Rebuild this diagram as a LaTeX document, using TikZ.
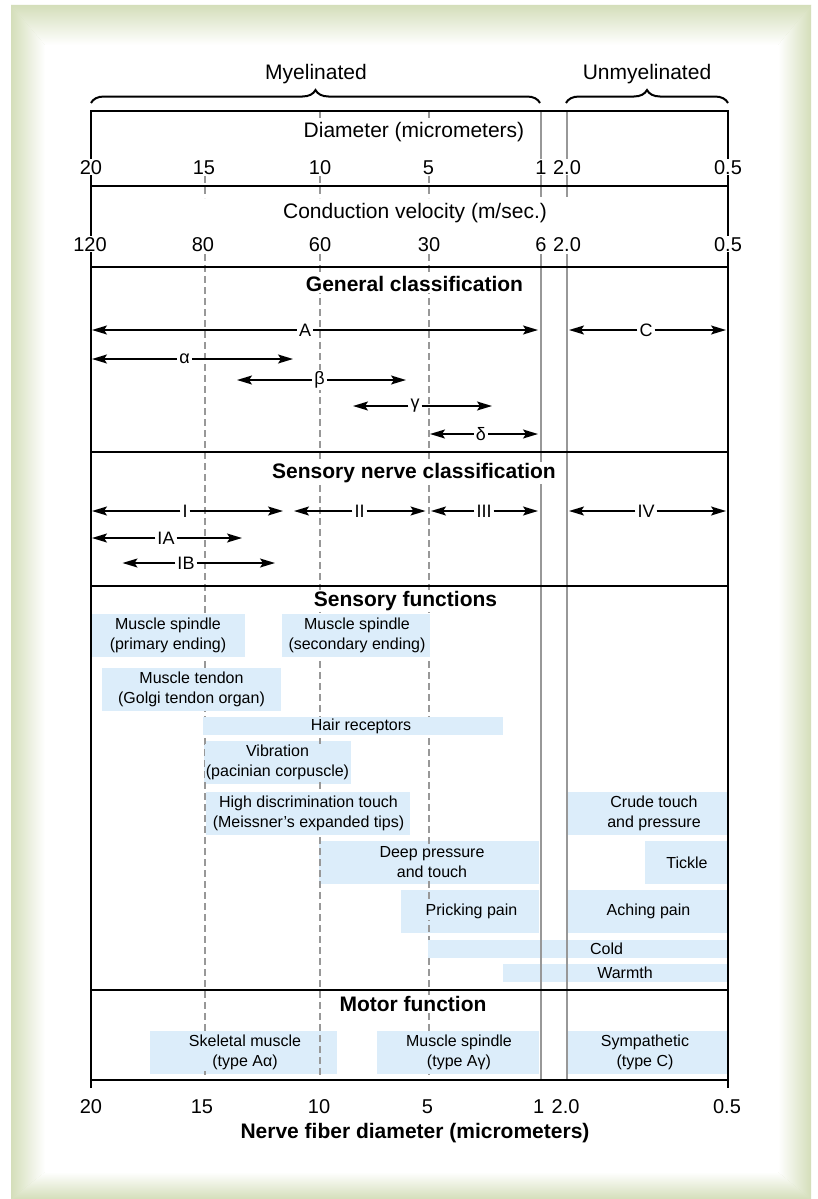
\documentclass[tikz,border=0pt]{standalone}
\usepackage{fontspec}
\setmainfont{Liberation Sans}
\usetikzlibrary{arrows.meta,decorations.pathreplacing}

\definecolor{framegreen}{RGB}{212,222,186}
\definecolor{fnblue}{RGB}{220,237,250}
\definecolor{guidegray}{RGB}{152,152,152}

\tikzset{
  frameline/.style={line width=2.5pt},
  guide/.style={draw=guidegray, line width=2pt},
  dashguide/.style={draw=guidegray, line width=2pt, dash pattern=on 7pt off 4pt},
  spanarrow/.style={line width=1.6pt, -{Stealth[length=15pt,width=9pt,inset=3pt]}},
  rlabel/.style={fill=white, inner sep=2pt, font=\fontsize{18}{20}\selectfont},
  scalelbl/.style={fill=white, inner sep=1pt, anchor=base, font=\fontsize{20}{24}\selectfont},
  rowhead/.style={fill=white, inner sep=1pt, anchor=base, font=\fontsize{21}{25}\selectfont},
  rowtitle/.style={rowhead, font=\fontsize{21}{25}\selectfont\bfseries},
  grouplbl/.style={anchor=base, font=\fontsize{21}{25}\selectfont},
  groupbrace/.style={line width=2pt, decorate, decoration={brace, amplitude=13pt}},
  fnbox/.style={fill=fnblue},
  fntext/.style={fill=fnblue, inner sep=1pt, align=center, font=\fontsize{16}{20}\selectfont},
}

\begin{document}
\begin{tikzpicture}[x=1pt, y=-1pt]
\useasboundingbox (0,0) rectangle (818,1199);

% frame
\fill[white] (0,0) rectangle (818,1199);
\fill[framegreen] (11,5) rectangle (811,1199);
\fill[white] (45,45) rectangle (778,1172);
\shade[left color=framegreen, right color=white] (11,5) -- (45,45) -- (45,1172) -- (11,1199) -- cycle;
\shade[top color=framegreen, bottom color=white] (11,5) -- (811,5) -- (778,45) -- (45,45) -- cycle;
\shade[left color=white, right color=framegreen] (778,45) -- (811,5) -- (811,1199) -- (778,1172) -- cycle;
\shade[top color=white, bottom color=framegreen] (45,1172) -- (778,1172) -- (811,1199) -- (11,1199) -- cycle;

% boxes the dashed lines show through
\path[fnbox] (204,741) rectangle (351,784);
\path[fnbox] (319,841) rectangle (539,884);
\path[fnbox] (401,890) rectangle (539,933);
\path[fnbox] (150,1031) rectangle (337,1074);

\draw[dashguide] (205,176) -- (205,198);
\draw[dashguide] (205,254) -- (205,1080);
\draw[dashguide] (320,111) -- (320,118);
\draw[dashguide] (320,176) -- (320,198);
\draw[dashguide] (320,254) -- (320,1080);
\draw[dashguide] (429,111) -- (429,118);
\draw[dashguide] (429,176) -- (429,198);
\draw[dashguide] (429,254) -- (429,1080);

\path[fnbox] (91,614) rectangle (245,657);
\path[fnbox] (282,614) rectangle (430,657);
\path[fnbox] (102,668) rectangle (281,711);
\path[fnbox] (203,717) rectangle (503,735);
\path[fnbox] (206,792) rectangle (410,835);
\path[fnbox] (567,792) rectangle (728,835);
\path[fnbox] (645,841) rectangle (728,884);
\path[fnbox] (567,890) rectangle (728,933);
\path[fnbox] (428,940) rectangle (728,958);
\path[fnbox] (503,964) rectangle (728,982);
\path[fnbox] (377,1031) rectangle (539,1074);
\path[fnbox] (566,1031) rectangle (728,1074);

\draw[guide] (541,111) -- (541,197);
\draw[guide] (541,254) -- (541,1080);
\draw[guide] (567,111) -- (567,197);
\draw[guide] (567,254) -- (567,1080);

\draw[frameline] (91,1088) -- (91,111) -- (728,111) -- (728,1088);
\draw[frameline] (91,186) -- (728,186);
\draw[frameline] (91,267) -- (728,267);
\draw[frameline] (91,452) -- (728,452);
\draw[frameline] (91,586) -- (728,586);
\draw[frameline] (91,990) -- (728,990);
\draw[frameline] (91,1080) -- (728,1080);

% myelinated / unmyelinated
\draw[groupbrace] (91,103) -- (540,103);
\draw[groupbrace] (566,103) -- (728,103);
\node[grouplbl] (myel) at (316,80) {Myelinated};
\node[grouplbl] (unmyel) at (647,80) {Unmyelinated};

% scales
\node[rowhead] (diamhead) at (414,137) {Diameter (micrometers)};
\node[scalelbl] (d20) at (91,174) {20};
\node[scalelbl] (d15) at (204,174) {15};
\node[scalelbl] (d10) at (320,174) {10};
\node[scalelbl] (d5) at (428.5,174) {5};
\node[scalelbl] (d1) at (541,174) {1};
\node[scalelbl] (d20c) at (567,174) {2.0};
\node[scalelbl] (d05) at (728,174) {0.5};

\node[rowhead] (velhead) at (415,218.5) {Conduction velocity (m/sec.)};
\node[scalelbl] (v120) at (90,251) {120};
\node[scalelbl] (v80) at (203,251) {80};
\node[scalelbl] (v60) at (320,251) {60};
\node[scalelbl] (v30) at (429,251) {30};
\node[scalelbl] (v6) at (541,251) {6};
\node[scalelbl] (v20c) at (567,251) {2.0};
\node[scalelbl] (v05) at (728,251) {0.5};

% general classification
\node[rowtitle] (genhead) at (414.5,291.7) {General classification};

\node[rlabel] (gA) at (305,330) {A};
\coordinate (gA-l) at (92,330);
\coordinate (gA-r) at (538,330);
\draw[spanarrow] (gA) -- (gA-l);
\draw[spanarrow] (gA) -- (gA-r);

\node[rlabel] (gC) at (646,330) {C};
\coordinate (gC-l) at (569,330);
\coordinate (gC-r) at (726,330);
\draw[spanarrow] (gC) -- (gC-l);
\draw[spanarrow] (gC) -- (gC-r);

\node[rlabel] (galpha) at (184.5,359) {α};
\coordinate (galpha-l) at (92,359);
\coordinate (galpha-r) at (293,359);
\draw[spanarrow] (galpha) -- (galpha-l);
\draw[spanarrow] (galpha) -- (galpha-r);

\node[rlabel] (gbeta) at (319.5,380) {β};
\coordinate (gbeta-l) at (237,380);
\coordinate (gbeta-r) at (406,380);
\draw[spanarrow] (gbeta) -- (gbeta-l);
\draw[spanarrow] (gbeta) -- (gbeta-r);

\node[rlabel] (ggamma) at (415,406) {γ};
\coordinate (ggamma-l) at (353,406);
\coordinate (ggamma-r) at (492,406);
\draw[spanarrow] (ggamma) -- (ggamma-l);
\draw[spanarrow] (ggamma) -- (ggamma-r);

\node[rlabel] (gdelta) at (481,434) {δ};
\coordinate (gdelta-l) at (430,434);
\coordinate (gdelta-r) at (538,434);
\draw[spanarrow] (gdelta) -- (gdelta-l);
\draw[spanarrow] (gdelta) -- (gdelta-r);

% sensory nerve classification
\node[rowtitle] (senhead) at (414,478.3) {Sensory nerve classification};

\node[rlabel] (sI) at (185,511) {I};
\coordinate (sI-l) at (92,511);
\coordinate (sI-r) at (283,511);
\draw[spanarrow] (sI) -- (sI-l);
\draw[spanarrow] (sI) -- (sI-r);

\node[rlabel] (sII) at (359.5,511) {II};
\coordinate (sII-l) at (294,511);
\coordinate (sII-r) at (425.5,511);
\draw[spanarrow] (sII) -- (sII-l);
\draw[spanarrow] (sII) -- (sII-r);

\node[rlabel] (sIII) at (484,511) {III};
\coordinate (sIII-l) at (431,511);
\coordinate (sIII-r) at (538,511);
\draw[spanarrow] (sIII) -- (sIII-l);
\draw[spanarrow] (sIII) -- (sIII-r);

\node[rlabel] (sIV) at (646,511) {IV};
\coordinate (sIV-l) at (569,511);
\coordinate (sIV-r) at (726,511);
\draw[spanarrow] (sIV) -- (sIV-l);
\draw[spanarrow] (sIV) -- (sIV-r);

\node[rlabel] (sIA) at (166,538) {IA};
\coordinate (sIA-l) at (92,538);
\coordinate (sIA-r) at (242,538);
\draw[spanarrow] (sIA) -- (sIA-l);
\draw[spanarrow] (sIA) -- (sIA-r);

\node[rlabel] (sIB) at (186,563) {IB};
\coordinate (sIB-l) at (122.5,563);
\coordinate (sIB-r) at (275,563);
\draw[spanarrow] (sIB) -- (sIB-l);
\draw[spanarrow] (sIB) -- (sIB-r);

% sensory functions
\node[rowtitle] (fnhead) at (405.5,606.7) {Sensory functions};
\node[fntext] (spinprim) at (168,635.5) {Muscle spindle\\(primary ending)};
\node[fntext] (spinsec) at (357,635.5) {Muscle spindle\\(secondary ending)};
\node[fntext] (tendon) at (191.5,689.5) {Muscle tendon\\(Golgi tendon organ)};
\node[fntext] (hair) at (361,726.5) {Hair receptors};
\node[fntext] (vibr) at (277.5,762.5) {Vibration\\(pacinian corpuscle)};
\node[fntext] (hightouch) at (308.5,813.5) {High discrimination touch\\(Meissner's expanded tips)};
\node[fntext] (crude) at (654,813.5) {Crude touch\\and pressure};
\node[fntext] (deep) at (432,862.5) {Deep pressure\\and touch};
\node[fntext] (tickle) at (687,862.5) {Tickle};
\node[fntext] (prick) at (471.5,911.5) {Pricking pain};
\node[fntext] (ache) at (648.5,911.5) {Aching pain};
\node[fntext] (cold) at (606.5,949) {Cold};
\node[fntext] (warm) at (625,973) {Warmth};

% motor function
\node[rowtitle] (motorhead) at (413,1011) {Motor function};
\node[fntext] (skel) at (245,1052.5) {Skeletal muscle\\(type Aα)};
\node[fntext] (spingam) at (459,1052.5) {Muscle spindle\\(type Aγ)};
\node[fntext] (symp) at (645,1052.5) {Sympathetic\\(type C)};

% bottom axis
\node[scalelbl] (b20) at (91,1113) {20};
\node[scalelbl] (b15) at (202,1113) {15};
\node[scalelbl] (b10) at (319,1113) {10};
\node[scalelbl] (b5) at (427.5,1113) {5};
\node[scalelbl] (b1) at (538.6,1113) {1};
\node[scalelbl] (b20c) at (565.6,1113) {2.0};
\node[scalelbl] (b05) at (727,1113) {0.5};
\node[grouplbl, font=\fontsize{21}{25}\selectfont\bfseries] (axistitle) at (415,1138.3) {Nerve fiber diameter (micrometers)};
\end{tikzpicture}
\end{document}
